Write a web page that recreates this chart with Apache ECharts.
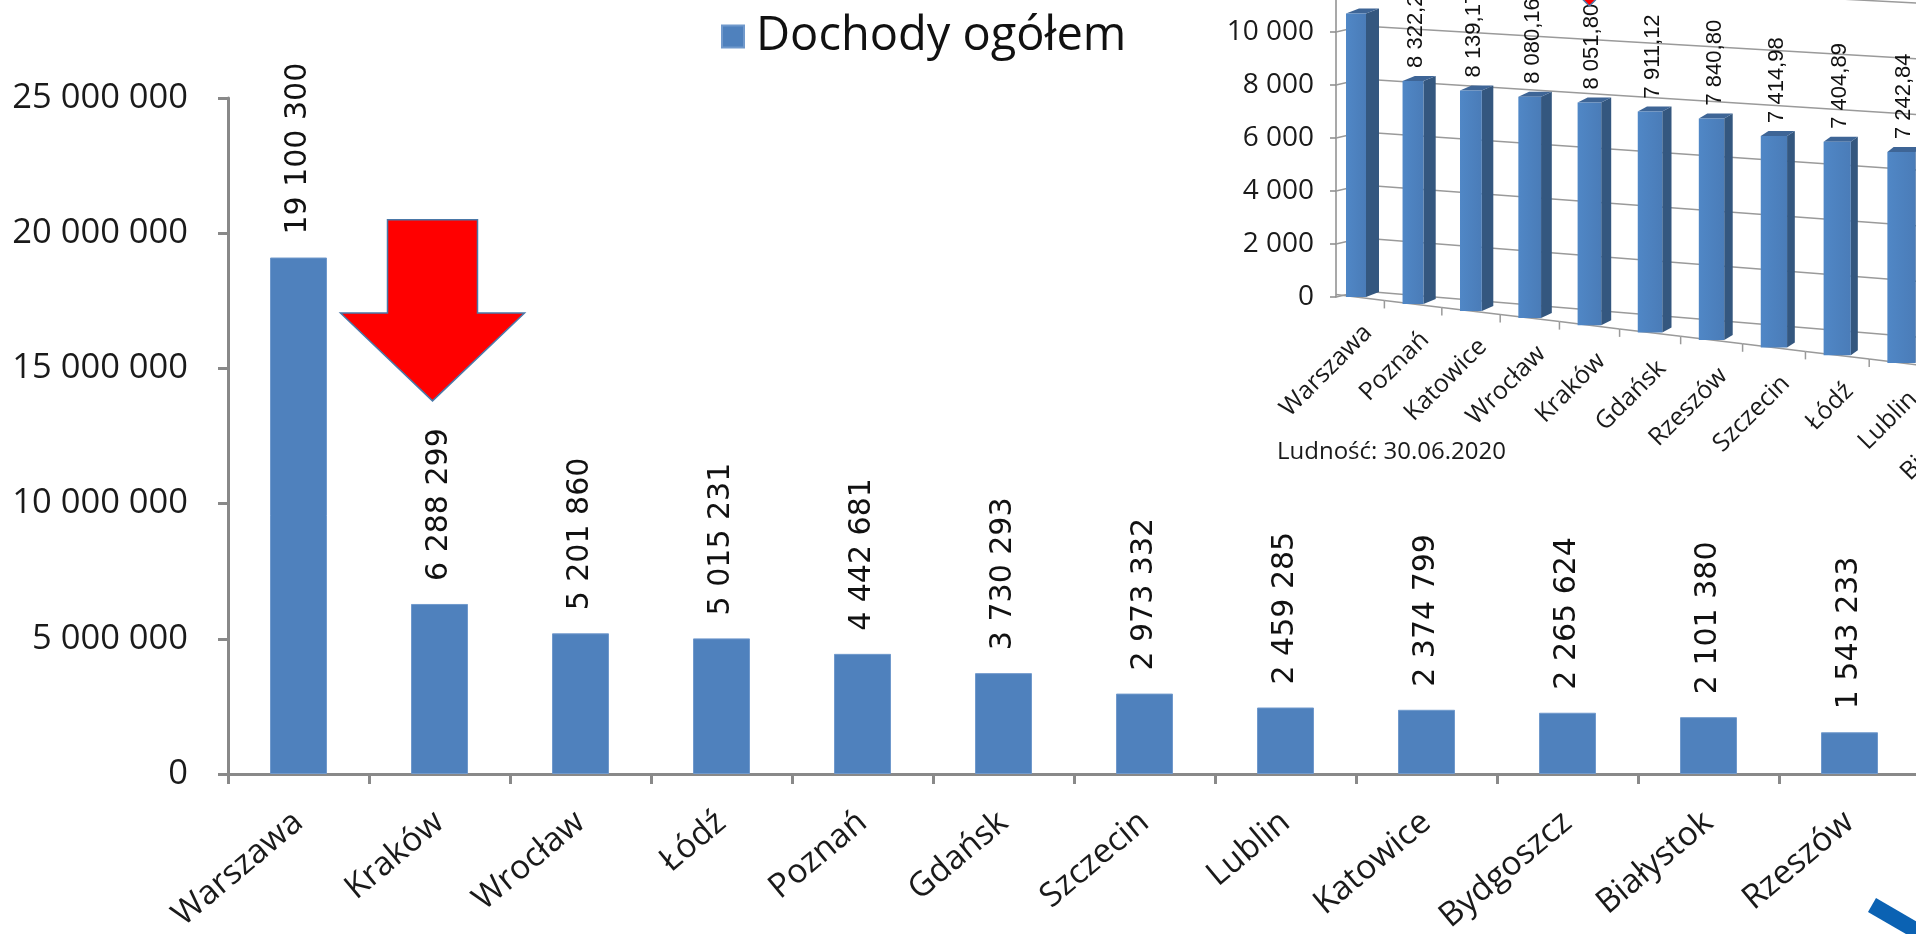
<!DOCTYPE html>
<html><head><meta charset="utf-8">
<script src="https://cdn.jsdelivr.net/npm/echarts@6/dist/echarts.min.js"></script>
<style>html,body{margin:0;padding:0;background:#fff;overflow:hidden}#c{width:1916px;height:934px}</style>
</head><body><div id="c"></div>
<script>
// ---- main chart data ----
const cities = ['Warszawa','Kraków','Wrocław','Łódź','Poznań','Gdańsk','Szczecin','Lublin','Katowice','Bydgoszcz','Białystok','Rzeszów'];
const dochody = [19100300, 6288299, 5201860, 5015231, 4442681, 3730293, 2973332, 2459285, 2374799, 2265624, 2101380, 1543233];
const seriesName = 'Dochody ogółem';
const yMin = 0, yMax = 25000000, yStep = 5000000;

// ---- inset chart data ----
const insetCities = ['Warszawa','Poznań','Katowice','Wrocław','Kraków','Gdańsk','Rzeszów','Szczecin','Łódź','Lublin','Białystok','Bydgoszcz'];
const insetValues = [10700, 8322.25, 8139.17, 8080.16, 8051.80, 7911.12, 7840.80, 7414.98, 7404.89, 7242.84, 7100, 6900];
const insetTicks = [0, 2000, 4000, 6000, 8000, 10000, 12000];
const insetNote = 'Ludność: 30.06.2020';

// annotation (red arrows) anchored to the Kraków category
const arrowCategory = 'Kraków';
const arrowTopVal = 20500000, arrowShoulderVal = 17050000, arrowTipVal = 13800000;

function fmtInt(v){ return String(Math.round(v)).replace(/\B(?=(\d{3})+(?!\d))/g,' '); }
function fmtDec(v){ const p = v.toFixed(2).split('.'); return fmtInt(+p[0]) + ',' + p[1]; }

const measureCtx = document.createElement('canvas').getContext('2d');
function textW(t, font){ measureCtx.font = font; return measureCtx.measureText(t).width; }

const chart = echarts.init(document.getElementById('c'), null, {renderer:'canvas'});

const axisGray = '#898989';
const F = 'Open Sans';
const valFont = '22px "Liberation Sans"';

const option = {
  animation: false,
  backgroundColor: '#fff',
  legend: {
    data: [seriesName],
    left: 716, top: 8,
    icon: 'rect', itemWidth: 22, itemHeight: 22,
    textStyle: {fontFamily: F, fontSize: 47, color: '#111', padding: [0,0,0,7]}
  },
  grid: [
    {left: 228, top: 98, width: 1692, height: 676, outerBoundsMode: 'none', containLabel: false},
    {left: 1336, top: -21, width: 684, height: 318, outerBoundsMode: 'none', containLabel: false}
  ],
  xAxis: [
    {
      type: 'category', gridIndex: 0, data: cities,
      axisLine: {lineStyle: {color: axisGray, width: 3}},
      axisTick: {show: true, length: 10, lineStyle: {color: axisGray, width: 3}},
      axisLabel: {rotate: 40, margin: 44, fontFamily: F, fontSize: 33.5, color: '#1a1a1a', interval: 0}
    },
    {
      type: 'category', gridIndex: 1, data: insetCities,
      axisLine: {show: false}, axisTick: {show: false}, axisLabel: {show: false}
    }
  ],
  yAxis: [
    {
      type: 'value', gridIndex: 0, min: yMin, max: yMax, interval: yStep,
      splitLine: {show: false},
      axisLine: {show: true, lineStyle: {color: axisGray, width: 3}},
      axisTick: {show: true, length: 10, lineStyle: {color: axisGray, width: 3}},
      axisLabel: {margin: 40, fontFamily: F, fontSize: 34.5, color: '#1a1a1a', formatter: v => fmtInt(v)}
    },
    {
      type: 'value', gridIndex: 1, min: 0, max: 12000, interval: 2000,
      splitLine: {show: false},
      axisLine: {show: true, lineStyle: {color: '#8c8c8c', width: 1.5}},
      axisTick: {show: true, length: 6, lineStyle: {color: '#8c8c8c', width: 1.5}},
      axisLabel: {margin: 22, fontFamily: F, fontSize: 28, color: '#1a1a1a', formatter: v => fmtInt(v)}
    }
  ],
  series: [
    {
      name: seriesName, type: 'bar', xAxisIndex: 0, yAxisIndex: 0,
      data: dochody, barWidth: 57,
      itemStyle: {color: '#4f81bd', borderColor: '#7099cc', borderWidth: 1},
      label: {
        show: true, position: 'top', rotate: 90, distance: 23,
        align: 'left', verticalAlign: 'middle',
        fontFamily: 'DejaVu Sans', fontSize: 30, color: '#111',
        formatter: p => fmtInt(p.value)
      }
    },
    {
      // inset: back-wall gridlines (slanted, 3D look)
      type: 'custom', xAxisIndex: 1, yAxisIndex: 1, silent: true, z: 3,
      data: insetTicks.map(v => [0, v]),
      renderItem: (params, api) => {
        const y = api.coord([0, api.value(1)])[1];
        const y0 = api.coord([0, 0])[1];
        const ax = params.coordSys.x;
        const kx = ax + 26, ky = y - 6;
        const rx = ax + 580, ry = y0 + 40 + (y - y0) * 1.05;
        const ex = ax + 800, ey = ky + (ry - ky) * (ex - kx) / (rx - kx);
        return {type: 'polyline', shape: {points: [[ax, y],[kx, ky],[ex, ey]]},
                style: {stroke: '#9a9a9a', lineWidth: 1.5, fill: null}};
      }
    },
    {
      // inset: 3D bars (perspective) with labels
      type: 'custom', xAxisIndex: 1, yAxisIndex: 1, z: 4,
      data: insetValues.map((v, i) => [i, v]),
      renderItem: (params, api) => {
        const i = api.value(0), v = api.value(1);
        const base = api.coord([i, 0]);
        const topP = api.coord([i, v]);
        const x0 = api.coord([0, 0])[0];
        const y0 = base[1];
        const band = api.size([1, 0])[0];
        const persp = 0.0079, slope = 0.121;
        const xs = x0 - 8.5;
        const px = dd => xs + dd + persp * dd * (dd - band) / band;
        const fy = x => y0 + (x - xs) * slope;
        const d = base[0] - x0;
        const cx = px(d);
        const by = fy(cx);
        const k = 1 + 0.011 * i;
        const h = (y0 - topP[1]) * k;
        const fw = 20 + 0.9 * i, sd = Math.max(5, 13 - 0.75 * i), sdy = 5;
        const l = cx - fw / 2, r = cx + fw / 2, t = by - h;
        const bL = Math.max(params.coordSys.x, px(d - band / 2)), bR = px(d + band / 2);
        const label = fmtDec(v);
        const labelY = t - sdy - 8;
        const children = [
          {type: 'line', shape: {x1: bL, y1: fy(bL), x2: bR, y2: fy(bR)}, style: {stroke: '#9a9a9a', lineWidth: 1.5}},
          {type: 'line', shape: {x1: bR, y1: fy(bR), x2: bR, y2: fy(bR) + 8}, style: {stroke: '#9a9a9a', lineWidth: 1.5}},
          {type: 'polygon', shape: {points: [[r, by],[r + sd, by - sdy],[r + sd, t - sdy],[r, t]]}, style: {fill: '#34577f'}},
          {type: 'polygon', shape: {points: [[l, t],[r, t],[r + sd, t - sdy],[l + sd, t - sdy]]}, style: {fill: '#3e6596'}},
          {type: 'rect', shape: {x: l, y: t, width: fw, height: h},
           style: {fill: new echarts.graphic.LinearGradient(0,0,1,0,[{offset:0,color:'#5087c6'},{offset:1,color:'#4a7cb8'}])}},
          {type: 'text', x: cx + 3, y: labelY, rotation: Math.PI / 2,
           style: {text: label, align: 'left', verticalAlign: 'middle', font: valFont, fill: '#111'}},
          {type: 'text', x: cx + 12, y: by + 32, rotation: Math.PI / 4,
           style: {text: insetCities[i], align: 'right', verticalAlign: 'middle', font: '25px "Open Sans"', fill: '#1a1a1a'}}
        ];
        if (insetCities[i] === arrowCategory) {
          const tipY = Math.max(6, labelY - textW(label, valFont) - 4);
          children.push({type: 'polygon', z2: 10, shape: {points: [[cx - 30, tipY - 30],[cx + 30, tipY - 30],[cx, tipY]]},
                         style: {fill: '#ff0000', stroke: '#4a78a8', lineWidth: 1.5}});
        }
        return {type: 'group', children};
      }
    }
  ]
};
chart.setOption(option);

// red arrow annotation + decorations, positioned via the main chart's scales
(function(){
  const cx = chart.convertToPixel({xAxisIndex: 0}, arrowCategory) - 7;
  const yT = chart.convertToPixel({yAxisIndex: 0}, arrowTopVal);
  const yS = chart.convertToPixel({yAxisIndex: 0}, arrowShoulderVal);
  const yP = chart.convertToPixel({yAxisIndex: 0}, arrowTipVal);
  const sw = 45, hw = 92;
  chart.setOption({graphic: [
    {type: 'text', left: 1277, top: 440, style: {text: insetNote, font: '24px "Open Sans"', fill: '#1a1a1a'}},
    {type: 'line', shape: {x1: 1872, y1: 905, x2: 1970, y2: 962}, style: {stroke: '#0b62b3', lineWidth: 16}},
    {type: 'polygon', z: 100, shape: {points: [[cx - sw, yT],[cx + sw, yT],[cx + sw, yS],[cx + hw, yS],[cx, yP],[cx - hw, yS],[cx - sw, yS]]},
     style: {fill: '#ff0000', stroke: '#4a78a8', lineWidth: 1.5}}
  ]});
})();
</script>
</body></html>
